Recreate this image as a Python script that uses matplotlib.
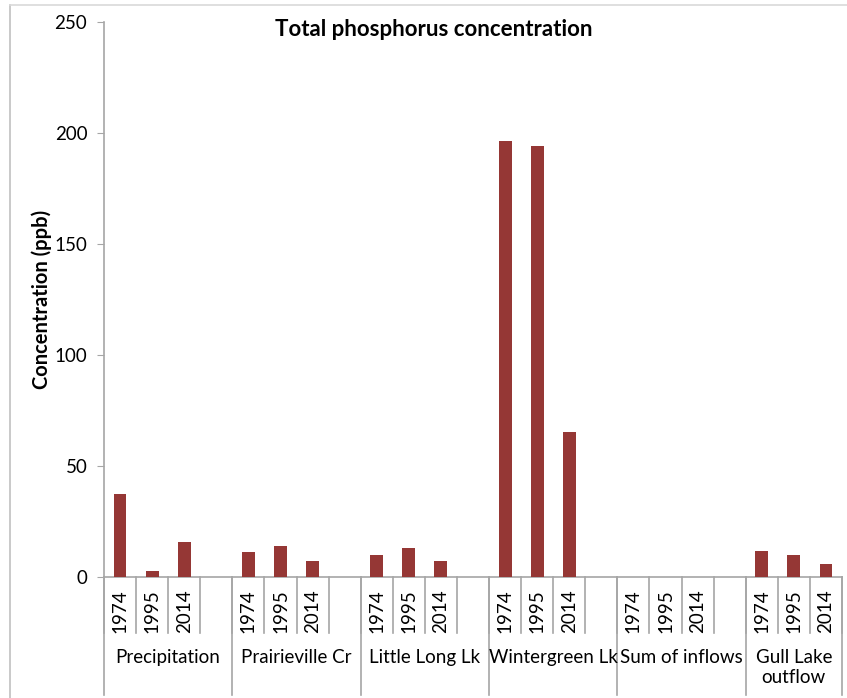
import numpy as np
import matplotlib.pyplot as plt
from matplotlib.lines import Line2D

plt.rcParams['font.family'] = ['Lato', 'DejaVu Sans']

groups = ['Precipitation', 'Prairieville Cr', 'Little Long Lk',
          'Wintergreen Lk', 'Sum of inflows', 'Gull Lake\noutflow']
years = ['1974', '1995', '2014']
# total P (ppb) per group, in year order; None = no value
conc = {
    'Precipitation':      [37.5, 2.7, 15.8],
    'Prairieville Cr':    [11.1, 14.0, 7.2],
    'Little Long Lk':     [10.0, 12.9, 7.2],
    'Wintergreen Lk':     [196.5, 194.3, 65.3],
    'Sum of inflows':     [None, None, None],
    'Gull Lake\noutflow': [11.7, 10.0, 6.0],
}

bar_color = '#953735'
axis_grey = '#A6A6A6'

fig = plt.figure(figsize=(8.47, 6.98), dpi=100)
ax = fig.add_axes([104/847, (698-577)/698, (842-104)/847, (577-22)/698])

# slot layout: 4 slots per group (3 years + gap), last group has no gap
xpos, xlab, vals = [], [], []
group_edges = [-0.5]
for g, name in enumerate(groups):
    for k, yr in enumerate(years):
        xpos.append(g*4 + k)
        xlab.append(yr)
        vals.append(conc[name][k])
    group_edges.append(g*4 + 3.5 if g < len(groups)-1 else g*4 + 2.5)
nslots = group_edges[-1] + 0.5

bx = [x for x, v in zip(xpos, vals) if v is not None]
bv = [v for v in vals if v is not None]
ax.bar(bx, bv, width=0.4, color=bar_color, zorder=3)

ax.set_xlim(-0.5, nslots - 0.5)
ax.set_ylim(0, 250)
ax.set_yticks(np.arange(0, 251, 50))
ax.tick_params(axis='y', labelsize=13.5, length=5, color=axis_grey, pad=7)
ax.set_xticks(xpos)
ax.set_xticklabels(xlab, rotation=90, fontsize=13.5)
ax.tick_params(axis='x', length=0, pad=9)
for lab in ax.get_xticklabels():
    lab.set_verticalalignment('top')

for s in ['top', 'right']:
    ax.spines[s].set_visible(False)
for s in ['left', 'bottom']:
    ax.spines[s].set_color(axis_grey)
    ax.spines[s].set_linewidth(1.2)

trans = ax.get_xaxis_transform()
# short separators between year slots
for e in np.arange(-0.5, nslots, 1.0):
    ax.plot([e, e], [0, -0.101], color=axis_grey, lw=1.2,
            transform=trans, clip_on=False)
# long separators between groups
for e in group_edges:
    ax.plot([e, e], [0, -0.2126], color=axis_grey, lw=1.2,
            transform=trans, clip_on=False)
# group names
for g, name in enumerate(groups):
    lo, hi = group_edges[g], group_edges[g+1]
    ax.text((lo + hi) / 2, -0.1295, name, transform=trans, ha='center',
            va='top', fontsize=13.5, linespacing=1.25)

ax.set_ylabel('Concentration (ppb)', fontsize=14.5, fontweight='bold', labelpad=2)
fig.text(434/847, 1 - 29/698, 'Total phosphorus concentration',
         ha='center', va='center', fontsize=16, fontweight='bold')

# outer chart frame (left and top edges)
fig.add_artist(Line2D([10/847, 10/847], [0, 1 - 5/698], color='#C0C0C0',
                      lw=1.2, transform=fig.transFigure))
fig.add_artist(Line2D([10/847, 1], [1 - 5/698, 1 - 5/698], color='#D9D9D9',
                      lw=1.2, transform=fig.transFigure))

fig.savefig('out.png', dpi=100)
